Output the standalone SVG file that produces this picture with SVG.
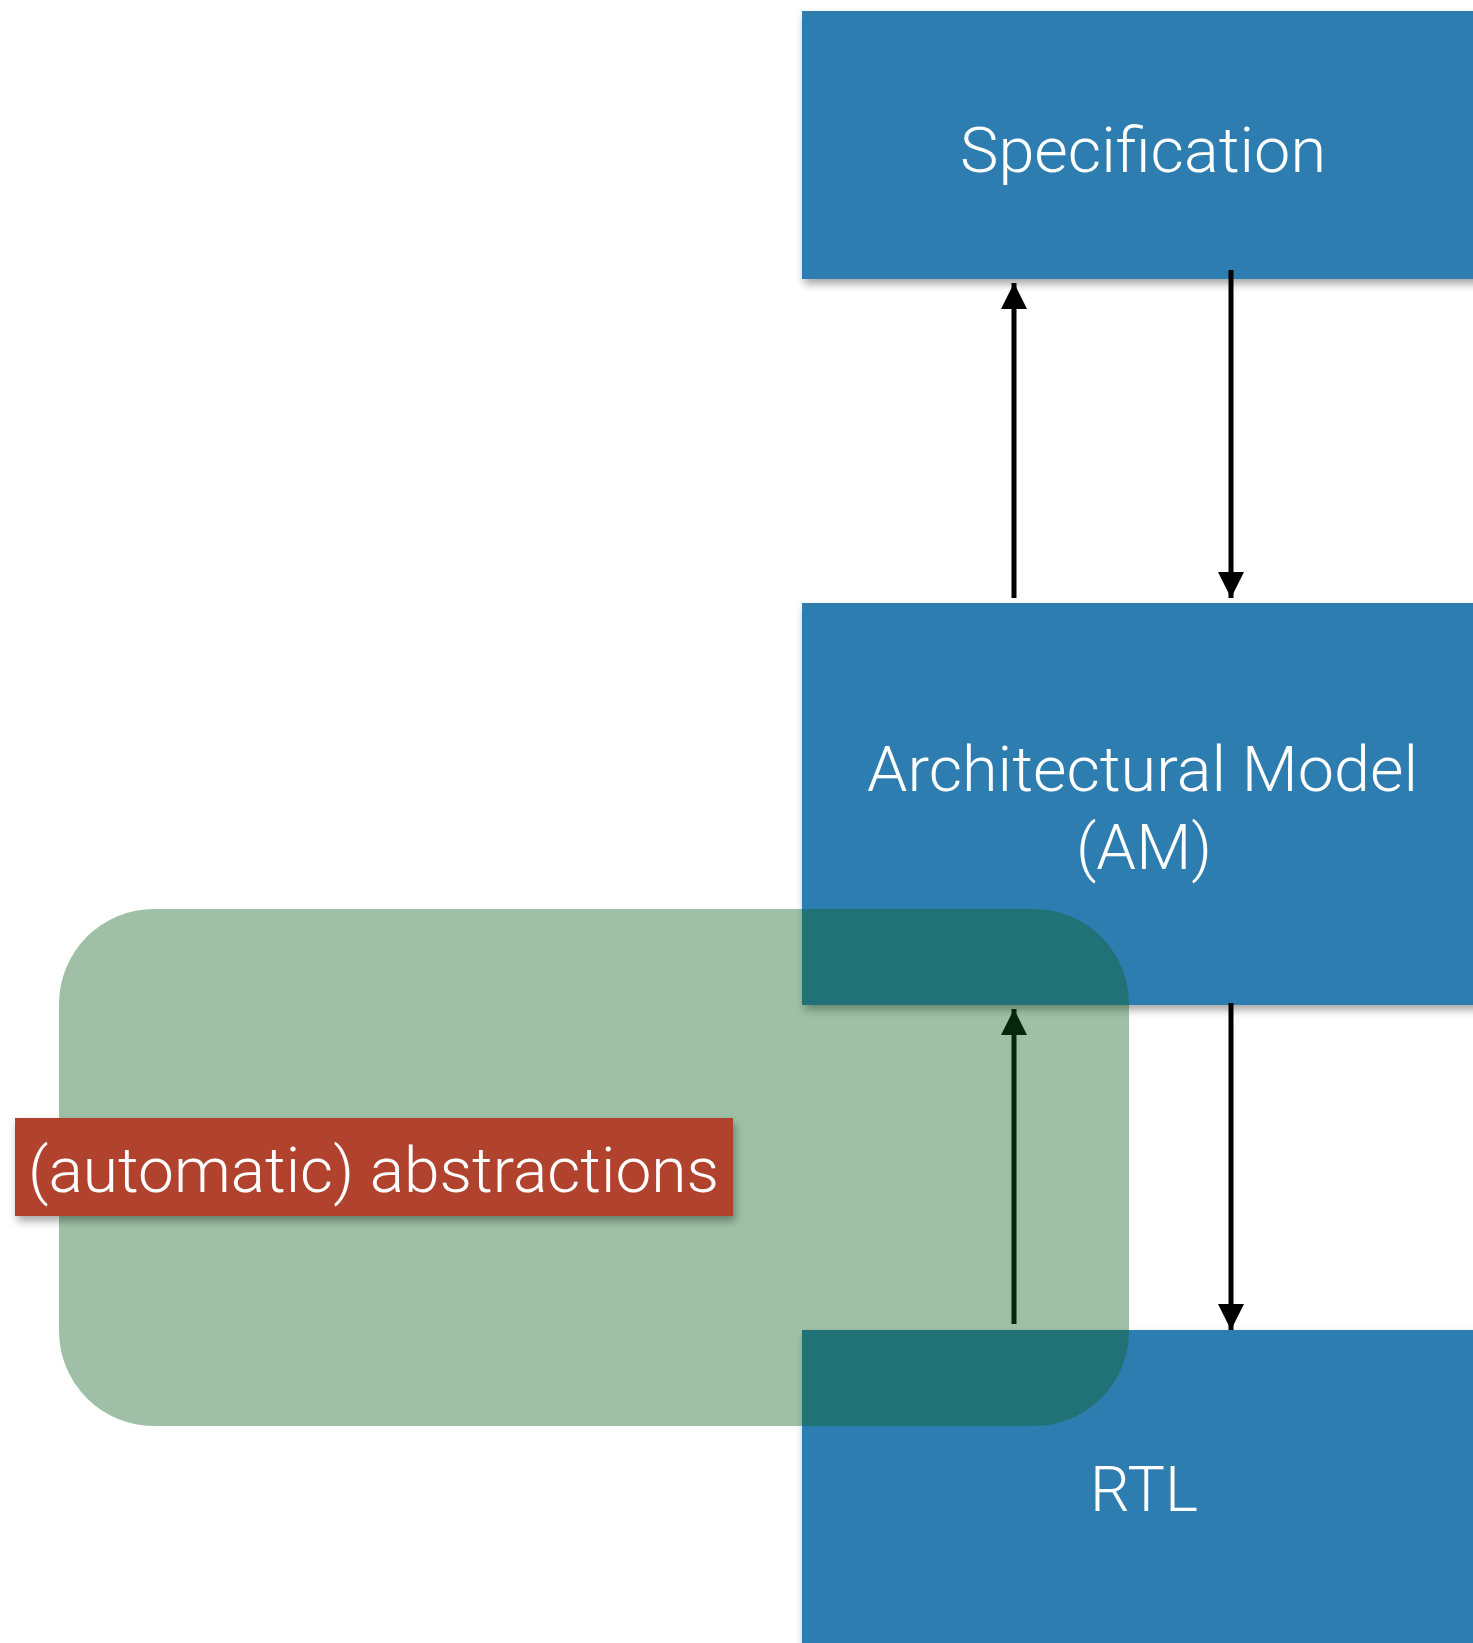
<svg xmlns="http://www.w3.org/2000/svg" width="1473" height="1643" viewBox="0 0 1473 1643">
  <style>
    .box { fill: #2e7db0; }
    .label { fill: #ffffff; font-family: Roboto, "Liberation Sans", sans-serif; font-weight: 300; font-size: 63px; }
    .wire { stroke: #000000; stroke-width: 5; fill: none; }
    .tag { fill: #b1422f; }
    .zone { fill: #0e6220; fill-opacity: 0.40; }
  </style>
  <defs>
    <filter id="shadow" x="-5%" y="-5%" width="115%" height="130%">
      <feDropShadow dx="2" dy="5" stdDeviation="4" flood-color="#000000" flood-opacity="0.35"/>
    </filter>
    <marker id="head" viewBox="0 0 10 10" refX="10" refY="5" markerUnits="userSpaceOnUse" markerWidth="26" markerHeight="26" orient="auto">
      <path d="M0,0 L10,5 L0,10 Z" fill="#000000"/>
    </marker>
  </defs>

  <rect width="1473" height="1643" fill="#ffffff"/>

  <!-- Specification -->
  <g id="node-specification">
    <rect class="box" x="802" y="11" width="680" height="268" filter="url(#shadow)"/>
    <text class="label" x="960" y="172" textLength="366" lengthAdjust="spacingAndGlyphs">Specification</text>
  </g>

  <!-- Architectural Model -->
  <g id="node-am">
    <rect class="box" x="802" y="603" width="680" height="402" filter="url(#shadow)"/>
    <text class="label" x="867" y="791" textLength="551" lengthAdjust="spacingAndGlyphs">Architectural Model</text>
    <text class="label" x="1076" y="869" textLength="136" lengthAdjust="spacingAndGlyphs">(AM)</text>
  </g>

  <!-- RTL -->
  <g id="node-rtl">
    <rect class="box" x="802" y="1330" width="680" height="330" filter="url(#shadow)"/>
    <text class="label" x="1090" y="1511" textLength="108" lengthAdjust="spacingAndGlyphs">RTL</text>
  </g>

  <!-- connectors between the levels -->
  <g id="connectors">
    <line class="wire" x1="1014" y1="598" x2="1014" y2="283" marker-end="url(#head)"/>
    <line class="wire" x1="1231" y1="270" x2="1231" y2="598" marker-end="url(#head)"/>
    <line class="wire" x1="1014" y1="1324" x2="1014" y2="1009" marker-end="url(#head)"/>
    <line class="wire" x1="1231" y1="1003" x2="1231" y2="1330" marker-end="url(#head)"/>
  </g>

  <!-- translucent abstraction region -->
  <g id="node-abstraction-zone">
    <rect class="zone" x="59" y="909" width="1070" height="517" rx="95" ry="95"/>
  </g>

  <!-- abstraction tag -->
  <g id="node-abstractions">
    <rect class="tag" x="15" y="1118" width="718" height="98" filter="url(#shadow)"/>
    <text class="label" x="28" y="1192" textLength="691" lengthAdjust="spacingAndGlyphs">(automatic) abstractions</text>
  </g>
</svg>
